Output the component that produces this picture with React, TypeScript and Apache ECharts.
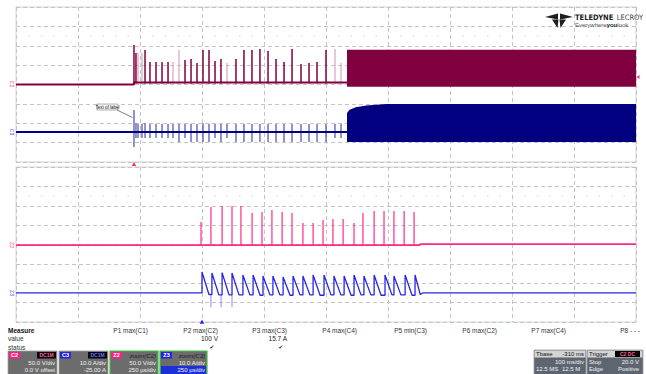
import React, { useEffect, useRef } from "react";
import * as echarts from "echarts";

// ---------- top panel: time in ms (100 ms/div), level in divisions ----------
const topPinkBaseT = [0, 190.3, 190.3, 533.9];
const topPinkBaseV = [4.0, 4.0, 4.1, 4.1];
const topSpikeT = [190.3, 193.5, 196.8, 203.2, 208.1, 216.1, 225.8, 235.5, 245.2, 253.2, 262.9, 272.6, 282.3, 291.9, 301.6, 311.3, 321.0, 330.6, 340.3, 354.8, 367.7, 380.6, 393.5, 406.5, 419.4, 432.3, 445.2, 459.7, 472.6, 485.5, 500.0, 514.5, 524.2];
const topPinkSpikeV = [6.04, 5.63, 5.63, 5.63, 5.78, 5.16, 5.16, 5.16, 5.16, 5.16, 5.78, 5.26, 5.32, 5.11, 5.78, 5.78, 5.21, 5.32, 5.11, 5.32, 5.78, 5.78, 5.83, 5.73, 5.32, 5.16, 5.83, 5.06, 5.11, 5.16, 5.78, 5.83, 5.11];
const topPinkSpikeLight = [0, 0, 1, 1, 0, 0, 0, 0, 0, 1, 1, 0, 0, 0, 0, 0, 0, 0, 1, 0, 0, 0, 0, 0, 0, 0, 0, 0, 0, 0, 0, 1, 1];
const topBlueBaseT = [0, 533.9];
const topBlueBaseV = [1.55, 1.55];
const topBlueSpikeHi = [2.68, 2.0, 1.96, 1.96, 2.0, 1.96, 1.96, 1.96, 1.96, 1.96, 1.96, 1.96, 1.96, 1.96, 2.0, 1.96, 1.96, 1.96, 1.96, 1.96, 1.96, 1.96, 1.96, 1.96, 1.96, 1.96, 1.96, 1.96, 1.96, 1.96, 1.96, 1.96, 1.96];
const topBlueSpikeLo = [0.77, 1.24, 1.24, 1.24, 1.24, 1.24, 1.24, 1.24, 1.24, 1.24, 1.03, 1.24, 1.03, 1.03, 1.03, 1.03, 1.24, 1.03, 1.24, 1.03, 1.03, 1.03, 1.03, 1.03, 1.03, 1.03, 1.03, 1.03, 1.03, 1.03, 1.03, 1.24, 1.24];
const topPinkBlockT = [533.9, 1000];
const topPinkBlockLo = [3.88, 3.88];
const topPinkBlockHi = [5.8, 5.8];
const topBlueBlockT = [533.9, 538, 548, 565, 597, 1000];
const topBlueBlockLo = [1.03, 1.03, 1.03, 1.03, 1.03, 1.03];
const topBlueBlockHi = [2.53, 2.7, 2.82, 2.92, 3.0, 3.0];

// ---------- bottom (zoom) panel: time in µs (250 µs/div) ----------
const botPinkBaseT = [0, 1629, 1629, 2500];
const botPinkBaseV = [3.97, 3.97, 4.02, 4.02];
const botPinkSpikeT = [746, 786, 831, 871, 907, 952, 992, 1032, 1073, 1113, 1157, 1198, 1238, 1278, 1319, 1363, 1399, 1444, 1484, 1524, 1565, 1605];
const botPinkSpikeV = [5.16, 5.94, 5.99, 5.99, 5.99, 5.63, 5.68, 5.78, 5.68, 5.63, 5.11, 5.11, 5.26, 5.32, 5.32, 5.11, 5.63, 5.73, 5.73, 5.73, 5.73, 5.68];
const botBlueBaseV = 1.5;
const sawPeakT = [750, 790, 831, 871, 915, 956, 996, 1036, 1077, 1117, 1157, 1198, 1242, 1282, 1323, 1363, 1403, 1444, 1488, 1524, 1569, 1609];
const sawPeakV = [2.58, 2.53, 2.55, 2.53, 2.43, 2.43, 2.37, 2.37, 2.32, 2.37, 2.37, 2.43, 2.43, 2.37, 2.37, 2.43, 2.37, 2.43, 2.43, 2.37, 2.43, 2.43];
const sawEndT = [778, 818, 859, 899, 943, 984, 1024, 1064, 1105, 1145, 1185, 1226, 1270, 1310, 1351, 1391, 1431, 1472, 1516, 1552, 1597, 1630];
const sawEndV = [1.42, 1.4, 1.4, 1.4, 1.4, 1.38, 1.4, 1.4, 1.38, 1.4, 1.4, 1.38, 1.4, 1.4, 1.38, 1.4, 1.4, 1.38, 1.4, 1.4, 1.38, 1.42];
const botBlueTailT = [1640, 2500];
const botBlueDipT = [786, 827, 871];
const botBlueDipV = [0.77, 0.77, 0.77];

const gridLevel = 6.5;

// ---------- measurement labels ----------
const measNames = ["P1 max(C1)", "P2 max(C2)", "P3 max(C3)", "P4 max(C4)", "P5 min(C3)", "P6 max(C2)", "P7 max(C4)", "P8 - - -"];
const measValues = ["", "100 V", "15.7 A", "", "", "", "", ""];
const measStatus = ["", "✔", "✔", "", "", "", "", ""];
const measRight = [148, 218, 287, 357, 427, 497, 566, 640];

const FONT = "'Liberation Sans', Arial, sans-serif";
const PINK_T = "#80003f";
const PINK_T_LIGHT = "#d6a3bb";
const BLUE_T = "#000080";
const BLUE_T_SPIKE = "#3b3ba6";
const PINK_B = "#ff2a86";
const BLUE_B = "#2626e6";
const BLUE_B_LIGHT = "#8c8cf0";

function zip(t: number[], v: number[]) {
  return t.map((x, i) => [x, v[i]]);
}

function spikeSeries(idx: number, data: number[][], color: string, width: number, z: number) {
  return {
    type: "custom",
    xAxisIndex: idx,
    yAxisIndex: idx,
    data,
    z,
    silent: true,
    clip: true,
    encode: { x: 0, y: [1, 2] },
    renderItem: (params: any, api: any) => {
      const p0 = api.coord([api.value(0), api.value(1)]);
      const p1 = api.coord([api.value(0), api.value(2)]);
      return {
        type: "line",
        shape: { x1: p0[0], y1: p0[1], x2: p1[0], y2: p1[1] },
        style: { stroke: color, lineWidth: width },
      };
    },
  };
}

function bandSeries(idx: number, t: number[], lo: number[], hi: number[], color: string, z: number) {
  return {
    type: "custom",
    xAxisIndex: idx,
    yAxisIndex: idx,
    data: t.map((x, i) => [x, lo[i], hi[i]]),
    z,
    silent: true,
    encode: { x: 0, y: [1, 2] },
    renderItem: (params: any, api: any) => {
      if (params.dataIndex !== 0) return { type: "group", children: [] };
      const pts: number[][] = [];
      for (let i = 0; i < t.length; i++) pts.push(api.coord([t[i], hi[i]]));
      for (let i = t.length - 1; i >= 0; i--) pts.push(api.coord([t[i], lo[i]]));
      return { type: "polygon", shape: { points: pts }, style: { fill: color } };
    },
  };
}

function lineSeries(idx: number, data: number[][], color: string, width: number, z: number, type: any = "solid") {
  return {
    type: "line",
    xAxisIndex: idx,
    yAxisIndex: idx,
    data,
    z,
    silent: true,
    showSymbol: false,
    symbol: "none",
    lineStyle: { color, width, type },
  };
}

function txt(x: number, y: number, text: string, o: any = {}) {
  return {
    type: "text",
    x,
    y,
    z: 100,
    rotation: o.rot ?? 0,
    style: {
      text,
      fontSize: o.size ?? 6.5,
      fontFamily: o.font ?? FONT,
      fontWeight: o.weight ?? "normal",
      fontStyle: o.style ?? "normal",
      fill: o.color ?? "#333",
      align: o.align ?? "left",
      textAlign: o.align ?? "left",
      verticalAlign: "middle",
      textVerticalAlign: "middle",
    },
  };
}

function rect(x: number, y: number, w: number, h: number, fill: string, stroke?: string, lw = 1) {
  return {
    type: "rect",
    z: 90,
    shape: { x, y, width: w, height: h },
    style: { fill, stroke: stroke ?? "none", lineWidth: stroke ? lw : 0 },
  };
}

function chanBox(x: number, w: number, lab: string, labColor: string, tag: string | null, tagColor: string, row2: string, row3: string, green: boolean, hl: boolean) {
  const y = 351;
  const els: any[] = [];
  els.push(rect(x, y, w, 24, "#6c6c6c", green ? "#39c13f" : "#a0a0a0", green ? 1.2 : 0.8));
  els.push(rect(x + 1, y + 1, 11, 6.5, labColor));
  els.push(txt(x + 6.5, y + 4.3, lab, { size: 5.5, color: "#fff", weight: "bold", align: "center" }));
  if (tag) {
    els.push(rect(x + w - 20, y + 1, 19, 6.5, "#050505"));
    els.push(txt(x + w - 10.5, y + 4.3, tag, { size: 5, color: tagColor, weight: "bold", align: "center" }));
  } else {
    els.push(txt(x + w - 2, y + 4.5, "zoom(" + (lab === "Z2" ? "C2" : "C3") + ")", { size: 6, color: "#1c1c1c", style: "italic", align: "right" }));
  }
  els.push(txt(x + w - 2, y + 11.5, row2, { size: 6, color: "#f2f2f2", align: "right" }));
  if (hl) els.push(rect(x + 1, y + 15, w - 2, 8, "#1d2fd8"));
  els.push(txt(x + w - 2, y + 19, row3, { size: 6, color: "#f2f2f2", align: "right" }));
  return els;
}

function buildSawtooth() {
  const pts: number[][] = [[0, botBlueBaseV]];
  let prev = botBlueBaseV;
  for (let i = 0; i < sawPeakT.length; i++) {
    pts.push([sawPeakT[i], prev]);
    pts.push([sawPeakT[i], sawPeakV[i]]);
    pts.push([sawEndT[i], sawEndV[i]]);
    prev = sawEndV[i];
  }
  pts.push([botBlueTailT[0], botBlueBaseV]);
  pts.push([botBlueTailT[1], botBlueBaseV]);
  return pts;
}

export default function App() {
  const ref = useRef<HTMLDivElement>(null);
  useEffect(() => {
    if (!ref.current) return;
    const chart = echarts.init(ref.current, null, { renderer: "svg" });

    const axisCommon = {
      axisLine: { show: false },
      axisTick: { show: false },
      axisLabel: { show: false },
      splitLine: { show: true, lineStyle: { color: "#c4c4c4", type: [4, 3], width: 1 } },
    };

    const pinkDark = topSpikeT.map((t, i) => [t, 4.05, topPinkSpikeV[i]]).filter((_, i) => !topPinkSpikeLight[i]);
    const pinkLight = topSpikeT.map((t, i) => [t, 4.05, topPinkSpikeV[i]]).filter((_, i) => topPinkSpikeLight[i]);
    const blueSp = topSpikeT.map((t, i) => [t, topBlueSpikeLo[i], topBlueSpikeHi[i]]);
    const botPinkSp = botPinkSpikeT.map((t, i) => [t, 3.97, botPinkSpikeV[i]]);
    const botDips = botBlueDipT.map((t, i) => [t, botBlueDipV[i], 1.4]);

    const graphic: any[] = [];
    // Logo
    graphic.push({ type: "polygon", z: 100, shape: { points: [[545, 17], [558, 13.5], [558, 19.5]] }, style: { fill: "#1e1e1e" } });
    graphic.push({ type: "polygon", z: 100, shape: { points: [[560, 13.5], [573, 17], [560, 19.5]] }, style: { fill: "#1e1e1e" } });
    graphic.push({ type: "polygon", z: 100, shape: { points: [[552, 19.5], [558.5, 19.5], [557.5, 28]] }, style: { fill: "#1e1e1e" } });
    graphic.push({ type: "polygon", z: 100, shape: { points: [[559.5, 19.5], [566, 19.5], [560.5, 28]] }, style: { fill: "#1e1e1e" } });
    graphic.push({
      type: "text", x: 575, y: 17, z: 100,
      style: {
        text: "{b|TELEDYNE} {n|LECROY}", fill: "#222", verticalAlign: "middle", textVerticalAlign: "middle",
        rich: {
          b: { fontSize: 7.5, fontWeight: "bold", fontFamily: "'Liberation Sans Narrow', 'DejaVu Sans Condensed', 'Liberation Sans'", fill: "#222" },
          n: { fontSize: 7.5, fontFamily: "'Liberation Sans Narrow', 'DejaVu Sans Condensed', 'Liberation Sans'", fill: "#444" },
        },
      },
    });
    graphic.push({
      type: "text", x: 575, y: 24.5, z: 100,
      style: {
        text: "{n|Everywhere}{b|you}{n|look}", verticalAlign: "middle", textVerticalAlign: "middle",
        rich: {
          n: { fontSize: 6, fontFamily: FONT, fill: "#555" },
          b: { fontSize: 6, fontFamily: FONT, fill: "#222", fontWeight: "bold" },
        },
      },
    });
    // label annotation
    graphic.push({ type: "line", z: 100, shape: { x1: 117, y1: 110, x2: 132.5, y2: 117.5 }, style: { stroke: "#444", lineWidth: 0.7 } });
    graphic.push(rect(97, 104, 21, 6, "#f3f3f3", "#666", 0.5));
    graphic.push(txt(107.5, 107.2, "Text of label", { size: 4.5, color: "#222", align: "center" }));
    // trace labels at left
    graphic.push(txt(12, 84, "C2", { size: 5, color: "#ff3d8e", rot: -Math.PI / 2, align: "center" }));
    graphic.push(txt(12, 132, "C3", { size: 5, color: "#4a4ad8", rot: -Math.PI / 2, align: "center" }));
    graphic.push(txt(12, 245, "Z2", { size: 5, color: "#ff3d8e", rot: -Math.PI / 2, align: "center" }));
    graphic.push(txt(12, 293, "Z3", { size: 5, color: "#4a4ad8", rot: -Math.PI / 2, align: "center" }));
    // trigger markers
    graphic.push({ type: "polygon", z: 100, shape: { points: [[131.8, 166], [136.2, 166], [134, 161.8]] }, style: { fill: "#ff2a86" } });
    graphic.push({ type: "polygon", z: 100, shape: { points: [[199.8, 323.8], [204.2, 323.8], [202, 319.5]] }, style: { fill: "#2626e6" } });
    graphic.push({ type: "polygon", z: 100, shape: { points: [[636.5, 77], [639.5, 75], [639.5, 79]] }, style: { fill: "#ff2a86" } });
    // measure area
    graphic.push(txt(8, 330, "Measure", { weight: "bold", color: "#111" }));
    graphic.push(txt(8, 338.5, "value", { color: "#333" }));
    graphic.push(txt(8, 347, "status", { color: "#333" }));
    measNames.forEach((n, i) => {
      graphic.push(txt(measRight[i], 330, n, { align: "right", color: "#333" }));
      if (measValues[i]) graphic.push(txt(measRight[i], 338.5, measValues[i], { align: "right", color: "#222" }));
      if (measStatus[i]) graphic.push(txt(measRight[i] - 4, 347, measStatus[i], { align: "right", color: "#222", size: 5.5, font: "'DejaVu Sans'" }));
    });
    // channel boxes
    graphic.push(...chanBox(8, 49, "C2", "#ff1f7f", "DC1M", "#ff5a9c", "50.0 V/div", "0.0 V offset", false, false));
    graphic.push(...chanBox(59, 49, "C3", "#2424e0", "DC1M", "#6f6fff", "10.0 A/div", "-25.00 A", false, false));
    graphic.push(...chanBox(110, 48, "Z2", "#ff1f7f", null, "", "50.0 V/div", "250 µs/div", true, false));
    graphic.push(...chanBox(160, 47, "Z3", "#2424e0", null, "", "10.0 A/div", "250 µs/div", true, true));
    // timebase box
    graphic.push(rect(534, 350, 52, 25, "#5d6670", "#9a9a9a", 0.8));
    graphic.push(rect(534.5, 350.5, 51, 7, "#d4d4d4"));
    graphic.push(txt(536, 354, "Tbase", { size: 6, color: "#111" }));
    graphic.push(txt(584, 354, "-310 ms", { size: 6, color: "#111", align: "right" }));
    graphic.push(txt(584, 361.5, "100 ms/div", { size: 6, color: "#f2f2f2", align: "right" }));
    graphic.push(txt(536, 369, "12.5 MS", { size: 6, color: "#f2f2f2" }));
    graphic.push(txt(562, 369, "12.5 M", { size: 6, color: "#f2f2f2" }));
    // trigger box
    graphic.push(rect(587, 350, 56, 25, "#5d6670", "#9a9a9a", 0.8));
    graphic.push(rect(587.5, 350.5, 55, 7, "#d4d4d4"));
    graphic.push(txt(589, 354, "Trigger", { size: 6, color: "#111" }));
    graphic.push(rect(615, 351, 25, 6, "#050505"));
    graphic.push(txt(627.5, 354, "C2 DC", { size: 5, color: "#ff5a9c", weight: "bold", align: "center" }));
    graphic.push(txt(589, 361.5, "Stop", { size: 6, color: "#f2f2f2" }));
    graphic.push(txt(639, 361.5, "20.0 V", { size: 6, color: "#f2f2f2", align: "right" }));
    graphic.push(txt(589, 369, "Edge", { size: 6, color: "#f2f2f2" }));
    graphic.push(txt(639, 369, "Positive", { size: 6, color: "#f2f2f2", align: "right" }));

    const option: any = {
      animation: false,
      backgroundColor: "#ffffff",
      grid: [
        { left: 16, top: 7, width: 620, height: 155, show: true, borderColor: "#d4d4d4", borderWidth: 1 },
        { left: 16, top: 167, width: 620, height: 155, show: true, borderColor: "#d4d4d4", borderWidth: 1 },
      ],
      xAxis: [
        { type: "value", gridIndex: 0, min: 0, max: 1000, interval: 100, ...axisCommon },
        { type: "value", gridIndex: 1, min: 0, max: 2500, interval: 250, ...axisCommon },
      ],
      yAxis: [
        { type: "value", gridIndex: 0, min: 0, max: 8, interval: 1, ...axisCommon },
        { type: "value", gridIndex: 1, min: 0, max: 8, interval: 1, ...axisCommon },
      ],
      series: [
        lineSeries(0, [[0, gridLevel], [1000, gridLevel]], "#c8c8c8", 1, 1, [1.2, 11.2]),
        lineSeries(1, [[0, gridLevel], [2500, gridLevel]], "#c8c8c8", 1, 1, [1.2, 11.2]),
        spikeSeries(0, pinkLight, PINK_T_LIGHT, 1.2, 2),
        spikeSeries(0, blueSp, BLUE_T_SPIKE, 1.1, 2),
        bandSeries(0, topPinkBlockT, topPinkBlockLo, topPinkBlockHi, PINK_T, 3),
        bandSeries(0, topBlueBlockT, topBlueBlockLo, topBlueBlockHi, BLUE_T, 3),
        lineSeries(0, zip(topPinkBaseT, topPinkBaseV), PINK_T, 2, 4),
        lineSeries(0, zip(topBlueBaseT, topBlueBaseV), BLUE_T, 2, 4),
        spikeSeries(0, pinkDark, PINK_T, 1.5, 5),
        spikeSeries(1, botDips, BLUE_B_LIGHT, 1, 2),
        spikeSeries(1, botPinkSp, PINK_B, 1.2, 3),
        lineSeries(1, zip(botPinkBaseT, botPinkBaseV), PINK_B, 1.6, 4),
        lineSeries(1, buildSawtooth(), BLUE_B, 1.3, 4),
      ],
      graphic,
    };
    chart.setOption(option);
    return () => chart.dispose();
  }, []);

  return (
    <div
      ref={ref}
      style={{ position: "fixed", left: 0, top: 0, width: 646, height: 374, background: "#fff" }}
    />
  );
}
